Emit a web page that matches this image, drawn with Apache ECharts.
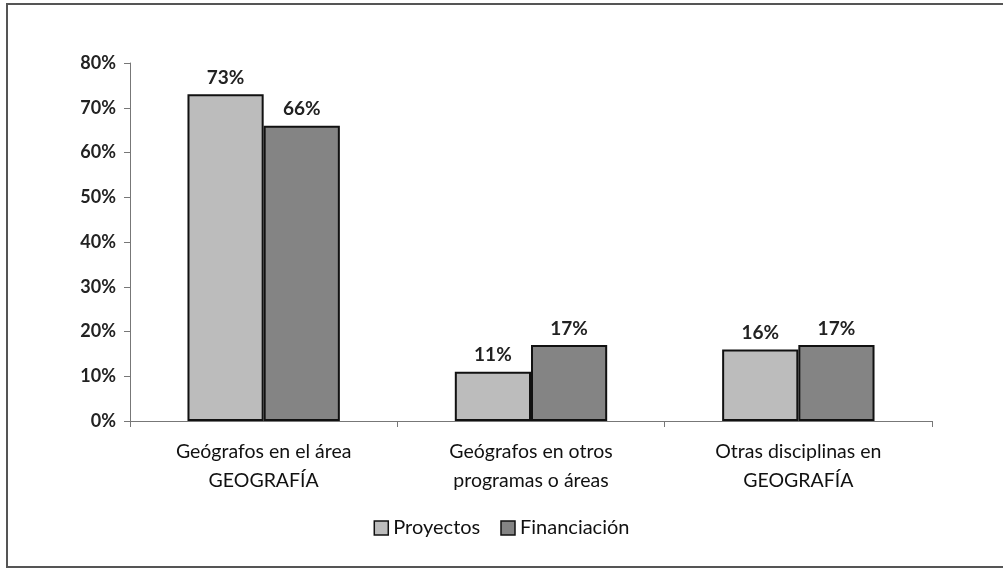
<!DOCTYPE html>
<html>
<head>
<meta charset="utf-8">
<script src="https://cdn.jsdelivr.net/npm/echarts@6/dist/echarts.min.js"></script>
<style>
  html, body { margin: 0; padding: 0; background: #fff; }
  #chart { width: 1003px; height: 570px; }
</style>
</head>
<body>
<div id="chart"></div>
<script>
// data
const categories = ['Geógrafos en el área\nGEOGRAFÍA', 'Geógrafos en otros\nprogramas o áreas', 'Otras disciplinas en\nGEOGRAFÍA'];
const proyectos = [73, 11, 16];
const financiacion = [66, 17, 17];
const yTicks = [0, 10, 20, 30, 40, 50, 60, 70, 80];

const font = 'Lato, "Open Sans", sans-serif';

const chart = echarts.init(document.getElementById('chart'));

const barLabel = {
  show: true,
  position: 'top',
  distance: 7,
  formatter: p => p.value + '%',
  fontFamily: font,
  fontSize: 19,
  fontWeight: 'bold',
  color: '#222'
};

chart.setOption({
  animation: false,
  backgroundColor: '#fff',
  graphic: [{
    type: 'rect',
    shape: { x: 7, y: 4, width: 1000, height: 563 },
    style: { fill: 'none', stroke: '#555', lineWidth: 2 }
  }],
  legend: {
    bottom: 27,
    left: 'center',
    icon: 'rect',
    itemWidth: 14,
    itemHeight: 14,
    itemGap: 20,
    itemStyle: { borderColor: '#111', borderWidth: 1.5 },
    textStyle: { fontFamily: font, fontSize: 20, color: '#111' },
    data: ['Proyectos', 'Financiación']
  },
  grid: { left: 130, right: 71, top: 63, bottom: 149 },
  xAxis: {
    type: 'category',
    data: categories,
    axisLine: { lineStyle: { color: '#777', width: 1 } },
    axisTick: { show: true, length: 6, lineStyle: { color: '#777' } },
    axisLabel: {
      fontFamily: font,
      fontSize: 19.5,
      color: '#111',
      lineHeight: 29,
      margin: 16
    }
  },
  yAxis: {
    type: 'value',
    min: yTicks[0],
    max: yTicks[yTicks.length - 1],
    interval: 10,
    axisLine: { show: true, lineStyle: { color: '#777', width: 1 } },
    axisTick: { show: true, length: 6, lineStyle: { color: '#777' } },
    splitLine: { show: false },
    axisLabel: {
      formatter: v => v + '%',
      fontFamily: font,
      fontSize: 18,
      fontWeight: 'bold',
      color: '#222',
      margin: 14
    }
  },
  series: [
    {
      name: 'Proyectos',
      type: 'bar',
      data: proyectos,
      barGap: '0%',
      barCategoryGap: '43%',
      itemStyle: { color: '#bcbcbc', borderColor: '#111', borderWidth: 2 },
      label: barLabel
    },
    {
      name: 'Financiación',
      type: 'bar',
      data: financiacion,
      itemStyle: { color: '#848484', borderColor: '#111', borderWidth: 2 },
      label: barLabel
    }
  ]
});
</script>
</body>
</html>
